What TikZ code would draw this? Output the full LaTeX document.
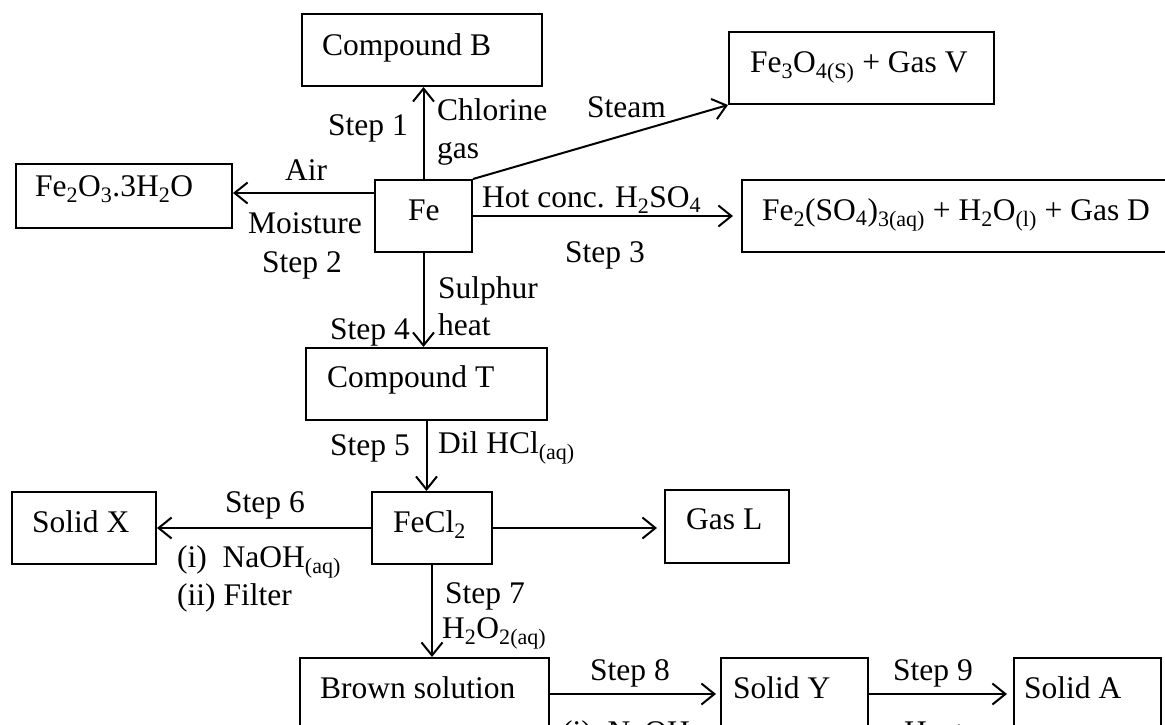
\documentclass[tikz,border=0pt]{standalone}
\usepackage{fontspec}
\setmainfont{Liberation Serif}
\usetikzlibrary{arrows.meta}
\newcommand\sbs[1]{\textsubscript{#1}}
\tikzset{
  box/.style={draw, line width=2pt, rectangle, inner sep=0pt, anchor=north west},
  lbl/.style={anchor=base west, inner sep=0pt},
  arr/.style={line width=2pt, -{Straight Barb[length=13pt,width=21pt]}},
}
\begin{document}
\begin{tikzpicture}[x=1pt,y=-1pt,font=\fontsize{31.5}{38}\selectfont]
\useasboundingbox (0,0) rectangle (1165,724);
\clip (0,0) rectangle (1165,724);
% boxes
\node[box, minimum width=240pt, minimum height=72pt] (cb) at (301,13) {};
\node[box, minimum width=265pt, minimum height=72pt] (fe3o4) at (728,31) {};
\node[box, minimum width=216pt, minimum height=64pt] (fehyd) at (15,163) {};
\node[box, minimum width=97pt, minimum height=72pt] (fe) at (374,179) {};
\node[box, minimum width=430pt, minimum height=72pt] (fsd) at (741,179) {};
\node[box, minimum width=241pt, minimum height=72pt] (ct) at (305,347) {};
\node[box, minimum width=144pt, minimum height=72pt] (sx) at (11,491) {};
\node[box, minimum width=120pt, minimum height=72pt] (fecl) at (371,491) {};
\node[box, minimum width=124pt, minimum height=73pt] (gl) at (664,489) {};
\node[box, minimum width=249pt, minimum height=72pt] (bs) at (299,657) {};
\node[box, minimum width=147pt, minimum height=72pt] (sy) at (720,657) {};
\node[box, minimum width=147pt, minimum height=72pt] (sa) at (1013,657) {};
% box texts
\node[lbl] (tcb) at (322,55) {Compound B};
\node[lbl] (tfe3o4) at (750,72) {Fe\sbs{3}O\sbs{4(S)} + Gas V};
\node[lbl] (tfehyd) at (35,196) {Fe\sbs{2}O\sbs{3}.3H\sbs{2}O};
\node[lbl] (tfe) at (408,220) {Fe};
\node[lbl] (tfsd) at (762,220) {Fe\sbs{2}(SO\sbs{4})\sbs{3(aq)} + H\sbs{2}O\sbs{(l)} + Gas D};
\node[lbl] (tct) at (327,387) {Compound T};
\node[lbl] (tsx) at (32,532) {Solid X};
\node[lbl] (tfecl) at (393,532) {FeCl\sbs{2}};
\node[lbl] (tgl) at (686,529) {Gas L};
\node[lbl] (tbs) at (320,698) {Brown solution};
\node[lbl] (tsy) at (733,698) {Solid Y};
\node[lbl] (tsa) at (1024,698) {Solid A};
% connectors
\draw[arr] (fe.north) -- (fe.north |- cb.south);
\draw[arr] ([yshift=-14pt]fe.north west) -- ([yshift=-14pt]fe.north west -| fehyd.east);
\draw[arr] (fe.north east) -- (fe3o4.south west);
\draw[arr, shorten >=8pt] (fe.east) -- (fe.east -| fsd.west);
\draw[arr] (fe.south) -- (fe.south |- ct.north);
\draw[arr] (ct.south) -- (ct.south |- fecl.north);
\draw[arr] (fecl.west) -- (fecl.west -| sx.east);
\draw[arr, shorten >=7pt] (fecl.east) -- (fecl.east -| gl.west);
\draw[arr] (fecl.south) -- (fecl.south |- bs.north);
\draw[arr, shorten >=4pt] (bs.east) -- (bs.east -| sy.west);
\draw[arr, shorten >=6pt] (sy.east) -- (sy.east -| sa.west);
% connector labels
\node[lbl] (l1) at (328,135) {Step 1};
\node[lbl] (l1a) at (437,120) {Chlorine};
\node[lbl] (l1b) at (437,158) {gas};
\node[lbl] (l2a) at (285,180) {Air};
\node[lbl] (l2b) at (248,233) {Moisture};
\node[lbl] (l2c) at (262,272) {Step 2};
\node[lbl] (lst) at (587,117) {Steam};
\node[lbl] (l3a) at (482,207) {Hot conc. H\sbs{2}SO\sbs{4}};
\node[lbl] (l3b) at (565,262) {Step 3};
\node[lbl] (l4a) at (438,298) {Sulphur};
\node[lbl] (l4b) at (438,335) {heat};
\node[lbl] (l4c) at (330,339) {Step 4};
\node[lbl] (l5a) at (330,455) {Step 5};
\node[lbl] (l5b) at (438,453) {Dil HCl\sbs{(aq)}};
\node[lbl] (l6a) at (225,512) {Step 6};
\node[lbl] (l6b) at (177,567) {(i)\ \ NaOH\sbs{(aq)}};
\node[lbl] (l6c) at (177,605) {(ii) Filter};
\node[lbl] (l7a) at (445,603) {Step 7};
\node[lbl] (l7b) at (442,638) {H\sbs{2}O\sbs{2(aq)}};
\node[lbl] (l8a) at (590,680) {Step 8};
\node[lbl] (l8b) at (562,742) {(i)\ \ NaOH};
\node[lbl] (l9a) at (893,680) {Step 9};
\node[lbl] (l9b) at (904,742) {Heat};
\end{tikzpicture}
\end{document}
